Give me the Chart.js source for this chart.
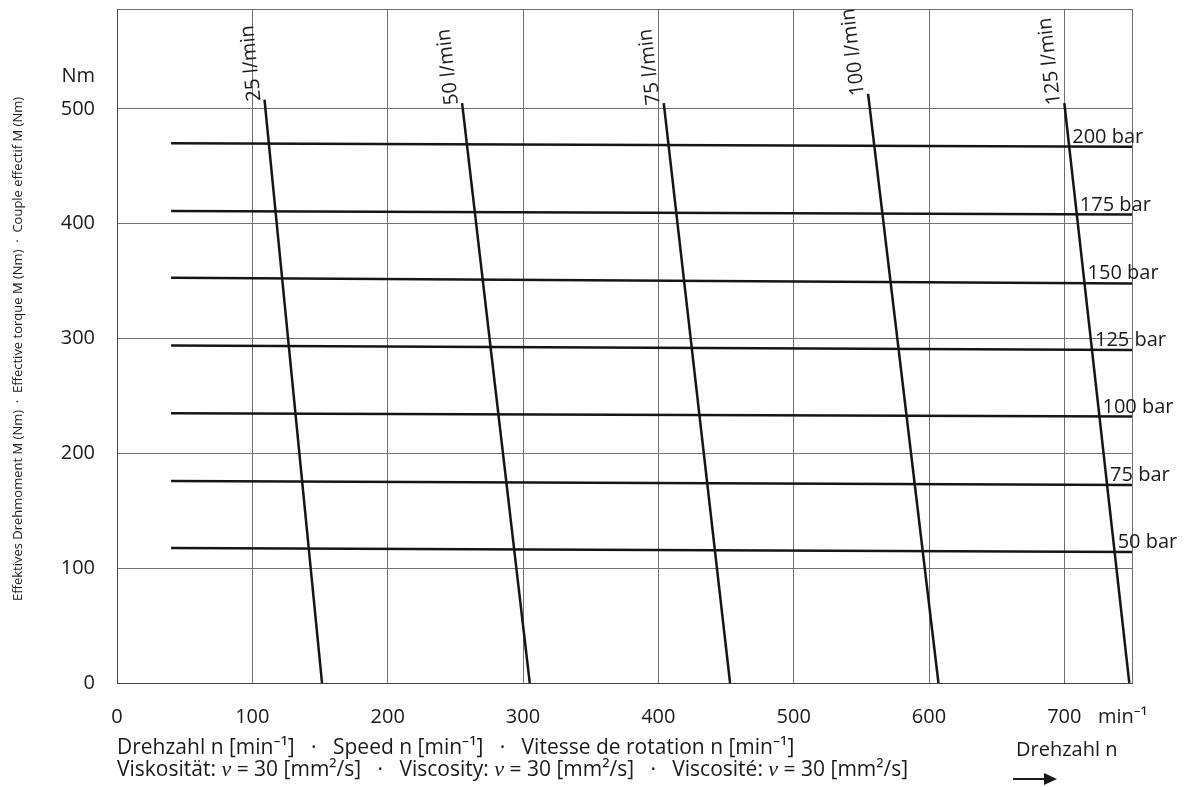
<!DOCTYPE html>
<html>
<head>
<meta charset="utf-8">
<script src="https://cdn.jsdelivr.net/npm/chart.js"></script>
<style>
  html, body { margin: 0; padding: 0; background: #fff; }
</style>
</head>
<body>
<canvas id="myChart" width="1191" height="787"></canvas>
<script>
// Druck-Linien (horizontal): Drehmoment links und rechts
const barLabels = ['200 bar', '175 bar', '150 bar', '125 bar', '100 bar', '75 bar', '50 bar'];
const barLeftM = [470, 411, 353, 294, 235, 176, 117.6];
const barRightM = [467, 408, 348, 290, 232, 172.5, 114];
const barFromN = 40;
const barToN = 750;

// Volumenstrom-Linien: oberer Punkt und Schnitt mit M = 0
const flowLabels = ['25 l/min', '50 l/min', '75 l/min', '100 l/min', '125 l/min'];
const flowTopN = [109, 255, 404, 555, 700];
const flowTopM = [508, 505, 505, 513, 505];
const flowZeroN = [151.5, 305, 453, 607, 748];

const xTicks = [0, 100, 200, 300, 400, 500, 600, 700];
const yTicks = [0, 100, 200, 300, 400, 500];
const xMax = 750;
const yMax = 587;

const FONT = '"Open Sans", "Noto Sans", sans-serif';

const datasets = [];
barLabels.forEach((lab, i) => {
    datasets.push({
        label: lab,
        data: [{x: barFromN, y: barLeftM[i]}, {x: barToN, y: barRightM[i]}],
        borderColor: '#151515',
        borderWidth: 2.5,
        pointRadius: 0,
        showLine: true
    });
});
flowLabels.forEach((lab, i) => {
    datasets.push({
        label: lab,
        data: [{x: flowTopN[i], y: flowTopM[i]}, {x: flowZeroN[i], y: 0}],
        borderColor: '#151515',
        borderWidth: 2.5,
        pointRadius: 0,
        showLine: true
    });
});

// Texte, die Chart.js nicht selbst setzt
const textPlugin = {
    id: 'texte',
    afterDraw(chart) {
        const ctx = chart.ctx;
        const xs = chart.scales.x;
        const ys = chart.scales.y;
        ctx.save();
        ctx.fillStyle = '#1a1a1a';

        // Beschriftung der Volumenstrom-Linien (gedreht)
        ctx.font = '20px ' + FONT;
        flowLabels.forEach((lab, i) => {
            const tx = xs.getPixelForValue(flowTopN[i]);
            const ty = ys.getPixelForValue(flowTopM[i]);
            const bx = xs.getPixelForValue(flowZeroN[i]);
            const by = ys.getPixelForValue(0);
            const ang = Math.atan2(ty - by, tx - bx);
            ctx.save();
            ctx.translate(tx - 4, ty + 1);
            ctx.rotate(ang);
            ctx.textAlign = 'left';
            ctx.textBaseline = 'alphabetic';
            ctx.fillText(lab, 0, 0);
            ctx.restore();
        });

        // Beschriftung der Druck-Linien rechts neben der 125 l/min Linie
        const k = flowLabels.length - 1;
        barLabels.forEach((lab, i) => {
            const m = barRightM[i];
            const n = flowZeroN[k] - (flowZeroN[k] - flowTopN[k]) * m / flowTopM[k];
            const px = xs.getPixelForValue(n) + 3;
            const py = ys.getPixelForValue(m) - 4;
            ctx.textAlign = 'left';
            ctx.textBaseline = 'alphabetic';
            ctx.fillText(lab, px, py);
        });

        // Einheiten an den Achsen
        ctx.textAlign = 'right';
        ctx.textBaseline = 'middle';
        ctx.fillText('Nm', 95, 76);
        ctx.textAlign = 'left';
        ctx.fillText('min\u207B\u00B9', 1098, 717);

        // y-Achsentitel
        ctx.save();
        ctx.translate(18, 349);
        ctx.rotate(-Math.PI / 2);
        ctx.font = '13px ' + FONT;
        ctx.textAlign = 'center';
        ctx.textBaseline = 'middle';
        ctx.fillText('Effektives Drehmoment M (Nm)  \u00B7  Effective torque M (Nm)  \u00B7  Couple effectif M (Nm)', 0, 0);
        ctx.restore();

        // Fusszeilen
        ctx.textAlign = 'left';
        ctx.textBaseline = 'middle';
        ctx.font = '21px ' + FONT;
        ctx.fillText('Drehzahl n [min\u207B\u00B9]   \u00B7   Speed n [min\u207B\u00B9]   \u00B7   Vitesse de rotation n [min\u207B\u00B9]', 117, 748);

        const norm = '21px ' + FONT;
        const ital = 'italic 22px "Liberation Serif", serif';
        const parts = [
            ['Viskosit\u00E4t: ', norm], ['\u03BD', ital], [' = 30 [mm\u00B2/s]   \u00B7   Viscosity: ', norm],
            ['\u03BD', ital], [' = 30 [mm\u00B2/s]   \u00B7   Viscosit\u00E9: ', norm], ['\u03BD', ital],
            [' = 30 [mm\u00B2/s]', norm]
        ];
        let x = 117;
        parts.forEach(p => {
            ctx.font = p[1];
            ctx.fillText(p[0], x, 770);
            x += ctx.measureText(p[0]).width;
        });

        ctx.font = '20px ' + FONT;
        ctx.fillText('Drehzahl n', 1016, 750);

        // Pfeil
        ctx.strokeStyle = '#1a1a1a';
        ctx.lineWidth = 2;
        ctx.beginPath();
        ctx.moveTo(1013, 779);
        ctx.lineTo(1046, 779);
        ctx.stroke();
        ctx.beginPath();
        ctx.moveTo(1057, 779);
        ctx.lineTo(1044, 773);
        ctx.lineTo(1044, 785);
        ctx.closePath();
        ctx.fill();

        ctx.restore();
    }
};

const config = {
    type: 'scatter',
    data: { datasets: datasets },
    options: {
        responsive: false,
        animation: false,
        devicePixelRatio: 1,
        layout: { padding: { top: 9, right: 59, left: 0, bottom: 0 } },
        plugins: {
            legend: { display: false },
            tooltip: { enabled: false }
        },
        scales: {
            x: {
                type: 'linear',
                min: 0,
                max: xMax,
                afterBuildTicks: s => { s.ticks = xTicks.concat([xMax]).map(v => ({value: v})); },
                afterFit: s => { s.height = 104; s.paddingLeft = 0; s.paddingRight = 0; },
                ticks: {
                    padding: 22,
                    font: { size: 20, family: FONT },
                    color: '#1a1a1a',
                    maxRotation: 0,
                    autoSkip: false,
                    callback: v => (v === xMax ? '' : v)
                },
                grid: { color: '#707070', lineWidth: 1, drawTicks: false },
                border: { color: '#444', width: 1 }
            },
            y: {
                type: 'linear',
                min: 0,
                max: yMax,
                afterBuildTicks: s => { s.ticks = yTicks.concat([yMax]).map(v => ({value: v})); },
                afterFit: s => { s.width = 117; s.paddingTop = 0; s.paddingBottom = 0; },
                ticks: {
                    padding: 22,
                    font: { size: 20, family: FONT },
                    color: '#1a1a1a',
                    autoSkip: false,
                    callback: v => (v === yMax ? '' : v)
                },
                grid: { color: '#707070', lineWidth: 1, drawTicks: false },
                border: { color: '#444', width: 1 }
            }
        }
    },
    plugins: [textPlugin]
};

const ctx = document.querySelector('#myChart').getContext('2d');
new Chart(ctx, config);
</script>
</body>
</html>
